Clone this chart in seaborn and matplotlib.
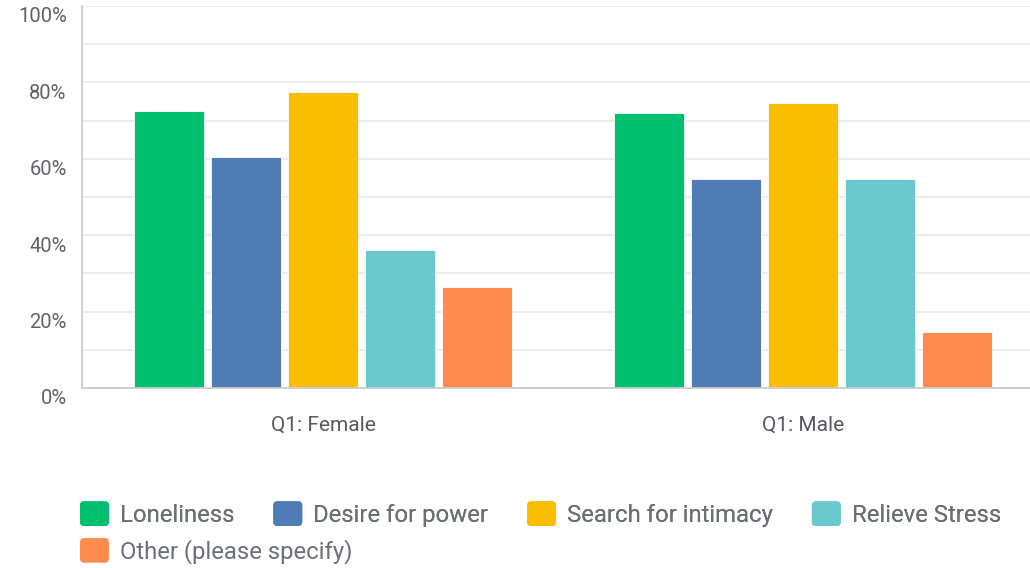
import matplotlib
matplotlib.use("Agg")
import matplotlib.pyplot as plt
import matplotlib.transforms as mtransforms
import seaborn as sns
import pandas as pd
from matplotlib.patches import Patch, FancyBboxPatch
from matplotlib.legend_handler import HandlerPatch
from matplotlib.ticker import MultipleLocator, FuncFormatter

# ---- data ----
groups = ["Q1: Female", "Q1: Male"]
answers = ["Loneliness", "Desire for power", "Search for intimacy",
           "Relieve Stress", "Other (please specify)"]
female = [72.6, 60.6, 77.5, 36.0, 26.5]
male = [72.1, 54.6, 74.5, 54.6, 14.6]
colors = ["#00BF6F", "#507CB6", "#F9BE00", "#6BC8CD", "#FF8B4F"]

rows = []
for g, vals in zip(groups, [female, male]):
    for a, v in zip(answers, vals):
        rows.append({"group": g, "answer": a, "value": v})
df = pd.DataFrame(rows)
palette = dict(zip(answers, colors))

sns.set_theme(style="white")
plt.rcParams["font.family"] = ["Roboto", "DejaVu Sans"]

fig = plt.figure(figsize=(10.30, 5.68), dpi=100)
W, H = 1030, 568
ax = fig.add_axes([82 / W, (H - 388) / H, 948 / W, 382 / H])

sns.barplot(data=df, x="group", y="value", hue="answer", order=groups,
            hue_order=answers, palette=palette, width=0.8, gap=0.09,
            edgecolor="white", linewidth=0.6, saturation=1, legend=False,
            ax=ax, errorbar=None)

ax.set_ylim(0, 100)
ax.set_xlim(-0.502, 1.473)
ax.yaxis.set_major_locator(MultipleLocator(20))
ax.yaxis.set_minor_locator(MultipleLocator(10))
ax.yaxis.set_major_formatter(FuncFormatter(lambda v, p: f"{int(v)}%"))
ax.grid(True, which="both", axis="y", color="#ececec", linewidth=1.3)
ax.grid(False, axis="x")
ax.set_axisbelow(True)
ax.tick_params(axis="y", which="both", length=0, pad=11, labelsize=14.5,
               labelcolor="#5f6368")
ax.tick_params(axis="x", length=0, pad=20, labelsize=15, labelcolor="#555a60")
offset = mtransforms.ScaledTranslation(0, -9 / 100, fig.dpi_scale_trans)
for lbl in ax.get_yticklabels():
    lbl.set_transform(lbl.get_transform() + offset)
ax.set_xlabel("")
ax.set_ylabel("")
for s in ["top", "right"]:
    ax.spines[s].set_visible(False)
for s in ["left", "bottom"]:
    ax.spines[s].set_color("#cccccc")
    ax.spines[s].set_linewidth(1.3)


class RoundHandler(HandlerPatch):
    def create_artists(self, legend, orig_handle, xdescent, ydescent,
                       width, height, fontsize, trans):
        p = FancyBboxPatch((-xdescent, -ydescent), width, height,
                           boxstyle="round,pad=0,rounding_size=3",
                           facecolor=orig_handle.get_facecolor(),
                           edgecolor="none", transform=trans)
        return [p]


handles = [Patch(facecolor=c, label=a) for a, c in zip(answers, colors)]
common = dict(frameon=False, fontsize=17.2, labelcolor="#6b7077",
              handlelength=1.21, handleheight=1.21, handletextpad=0.46,
              columnspacing=1.63, borderpad=0, borderaxespad=0,
              handler_map={Patch: RoundHandler()})
leg1 = fig.legend(handles=handles[:4], ncol=4, loc="center left",
                  bbox_to_anchor=(80 / W, 1 - 514 / H), **common)
leg2 = fig.legend(handles=handles[4:], ncol=1, loc="center left",
                  bbox_to_anchor=(80 / W, 1 - 551 / H), **common)
fig.add_artist(leg1)

fig.savefig("out.png", dpi=100, facecolor="white")
